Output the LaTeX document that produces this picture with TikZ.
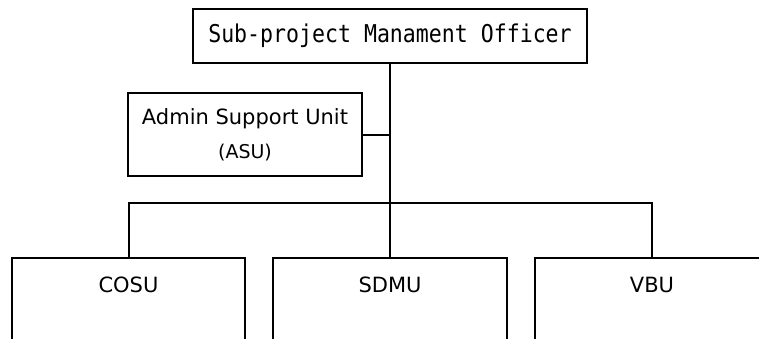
\documentclass[tikz,border=0pt]{standalone}
\usepackage{fontspec}
\setmainfont{DejaVu Sans}
\newfontfamily\gothic[FakeStretch=0.88]{DejaVu Sans Mono}
\begin{document}
\begin{tikzpicture}[x=1pt,y=-1pt,
  unitbox/.style={draw=black, line width=2pt, fill=white, inner sep=0pt},
  link/.style={draw=black, line width=2pt},
  unitlabel/.style={inner sep=0pt, font=\fontsize{21}{25}\selectfont}
]
\useasboundingbox (0,0) rectangle (759,338);
\clip (0,0) rectangle (759,338);

% head of the organisation
\node[unitbox, minimum width=394pt, minimum height=54pt,
      font=\gothic\fontsize{24.5}{28}\selectfont] (smo) at (390,36)
  {Sub-project Manament Officer};

% staff unit beside the trunk line
\node[unitbox, minimum width=234pt, minimum height=83pt, align=center,
      font=\fontsize{21}{34}\selectfont] (asu) at (245,134.5)
  {Admin Support Unit\\{\fontsize{19}{34}\selectfont (ASU)}};

% three operating units (lower edges run past the page)
\node[unitbox, anchor=north, minimum width=233pt, minimum height=140pt] (cosu) at (128.5,257) {};
\node[unitbox, anchor=north, minimum width=234pt, minimum height=140pt] (sdmu) at (390,257) {};
\node[unitbox, anchor=north, minimum width=234pt, minimum height=140pt] (vbu)  at (652,257) {};

\node[unitlabel] (cosut) at ([yshift=-28pt]cosu.north) {COSU};
\node[unitlabel] (sdmut) at ([yshift=-28pt]sdmu.north) {SDMU};
\node[unitlabel] (vbut)  at ([yshift=-28pt]vbu.north)  {VBU};

% reporting lines
\coordinate (bus) at (390,203);
\draw[link] (smo.south) -- (sdmu.north);
\draw[link] (asu.east) -- (asu.east -| smo.south);
\draw[link] (cosu.north) |- (bus) -| (vbu.north);
\end{tikzpicture}
\end{document}
